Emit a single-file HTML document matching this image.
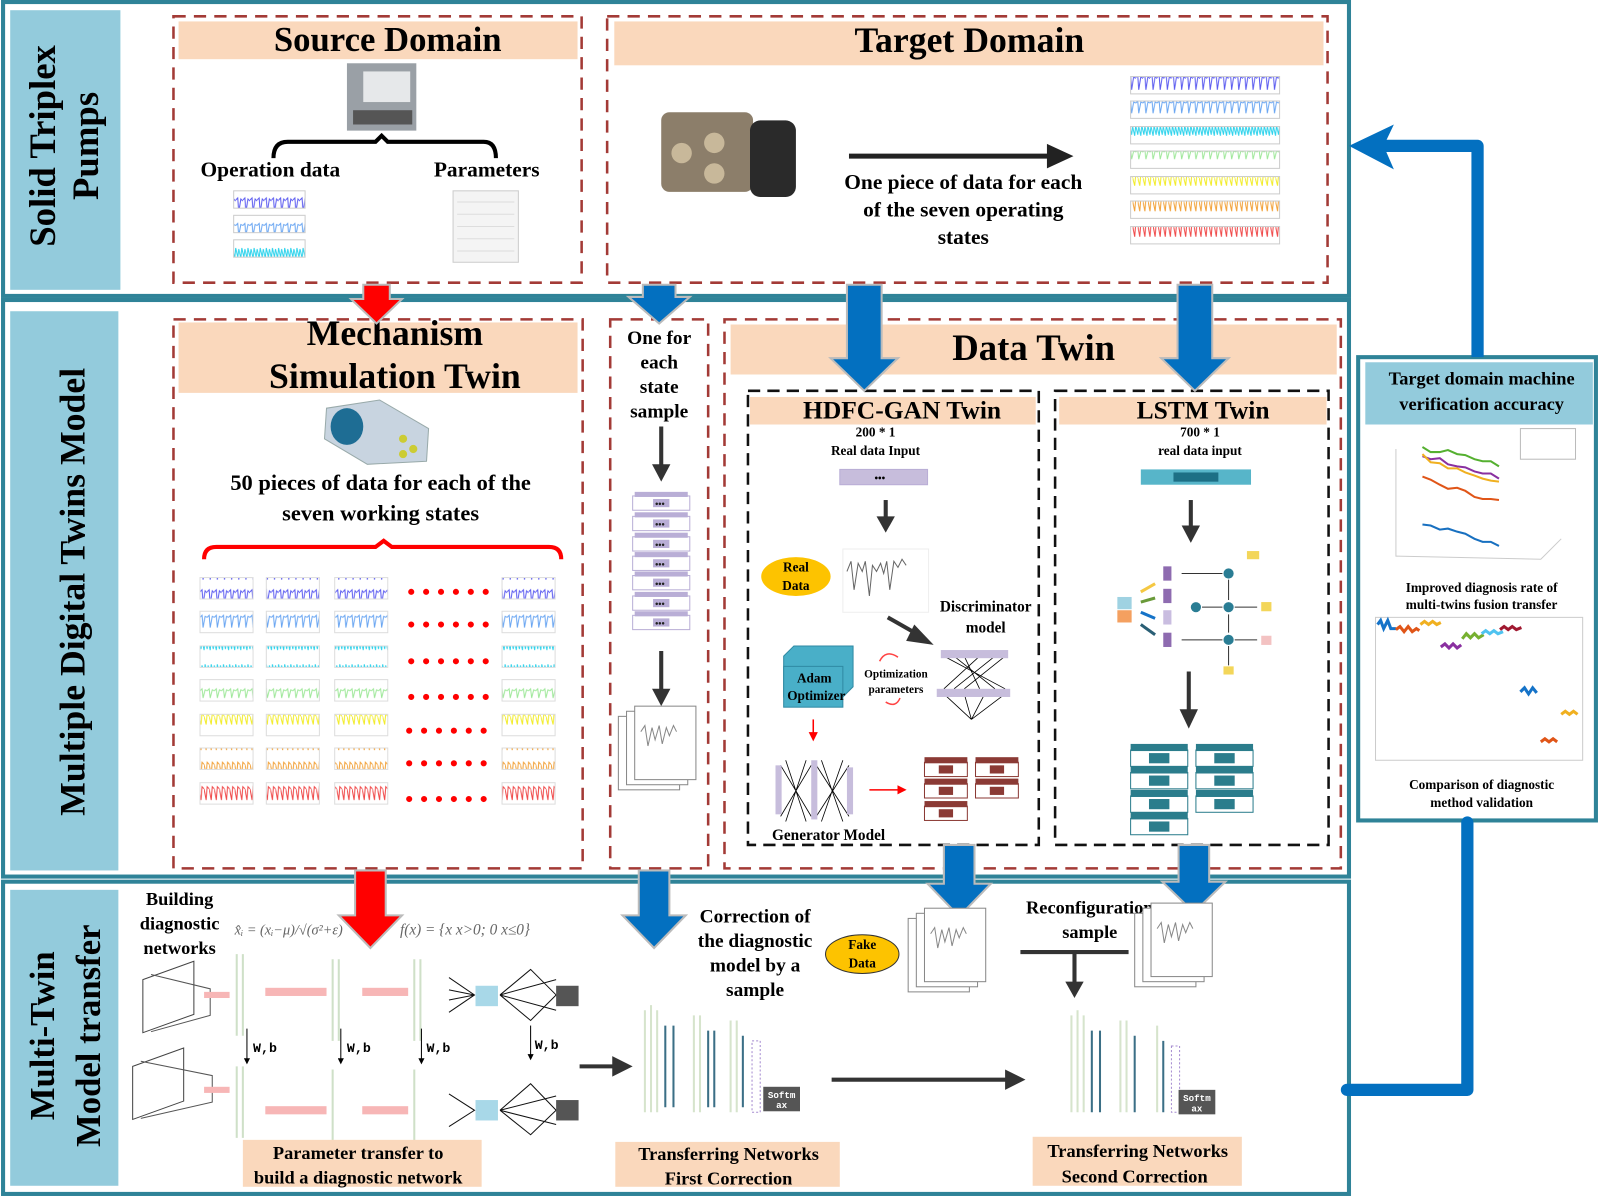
<!DOCTYPE html>
<html><head><meta charset="utf-8"><style>
html,body{margin:0;padding:0;background:#fff;}
svg{display:block}
text{font-family:"Liberation Serif",serif;font-weight:bold;fill:#000}
</style></head><body>
<svg width="1600" height="1197" viewBox="0 0 1568 1173" preserveAspectRatio="none" xmlns="http://www.w3.org/2000/svg">
<defs>
<pattern id="w0" width="7" height="24" patternUnits="userSpaceOnUse"><path d="M0,4 L2,2 L3,16 L5,3 L7,5" fill="none" stroke="#5b5bf0" stroke-width="1"/></pattern>
<pattern id="w1" width="7" height="24" patternUnits="userSpaceOnUse"><path d="M0,5 L2,3 L3,15 L5,4 L7,5" fill="none" stroke="#6aa6f2" stroke-width="1"/></pattern>
<pattern id="w2" width="6" height="24" patternUnits="userSpaceOnUse"><path d="M0,4 L2,13 L3,3 L5,12 L6,4" fill="none" stroke="#2fd3ec" stroke-width="1"/></pattern>
<pattern id="w3" width="7" height="24" patternUnits="userSpaceOnUse"><path d="M0,5 L2,3 L3,12 L5,4 L7,5" fill="none" stroke="#9fe89a" stroke-width="1"/></pattern>
<pattern id="w4" width="5" height="24" patternUnits="userSpaceOnUse"><path d="M0,6 L2,14 L3,3 L5,6" fill="none" stroke="#f2ec2a" stroke-width="1"/></pattern>
<pattern id="w5" width="5" height="24" patternUnits="userSpaceOnUse"><path d="M0,5 L2,15 L3,3 L5,5" fill="none" stroke="#f2a23a" stroke-width="1"/></pattern>
<pattern id="w6" width="5" height="24" patternUnits="userSpaceOnUse"><path d="M0,5 L2,16 L3,3 L5,5" fill="none" stroke="#f04a4a" stroke-width="1"/></pattern>
<marker id="ab" markerWidth="6" markerHeight="6" refX="3" refY="3" orient="auto" markerUnits="strokeWidth"><path d="M0,0 L6,3 L0,6 z" fill="#333"/></marker>
<marker id="ar" markerWidth="6" markerHeight="6" refX="3" refY="3" orient="auto" markerUnits="strokeWidth"><path d="M0,0 L6,3 L0,6 z" fill="#f00"/></marker>
<marker id="ak" markerWidth="6" markerHeight="6" refX="3" refY="3" orient="auto" markerUnits="strokeWidth"><path d="M0,0 L6,3 L0,6 z" fill="#000"/></marker>
<g id="lay"><rect x="0" y="0" width="56" height="14" fill="#fff" stroke="#b9aed6"/><rect x="2" y="-4" width="52" height="5" fill="#b9aed6"/><rect x="20" y="3" width="16" height="8" fill="#b9aed6"/><text x="22" y="11" font-size="9" style="fill:#222">•••</text></g>
<g id="bl"><rect x="0" y="0" width="42" height="14" fill="#fff" stroke="#8b3a35"/><rect x="0" y="-5" width="42" height="6" fill="#8b3a35"/><rect x="14" y="3" width="14" height="8" fill="#8b3a35"/></g>
<g id="tl"><rect x="0" y="0" width="56" height="16" fill="#fff" stroke="#2b7d8c"/><rect x="0" y="-6" width="56" height="7" fill="#2b7d8c"/><rect x="18" y="3" width="20" height="10" fill="#2b7d8c"/></g>
<g id="img"><rect x="0" y="10" width="60" height="72" fill="#fff" stroke="#888"/><rect x="8" y="5" width="60" height="72" fill="#fff" stroke="#888"/><rect x="16" y="0" width="60" height="72" fill="#fff" stroke="#888"/><path d="M22,25 l4,-6 l3,20 l4,-18 l3,12 l4,-14 l3,18 l4,-16 l3,8 l4,-10 l3,6" fill="none" stroke="#888"/></g>
</defs>

<rect x="3" y="2" width="1319" height="288" fill="none" stroke="#2f8398" stroke-width="4"/>
<rect x="3" y="294" width="1319" height="565" fill="none" stroke="#2f8398" stroke-width="4"/>
<rect x="3" y="864" width="1319" height="306" fill="none" stroke="#2f8398" stroke-width="4"/>
<rect x="10" y="10" width="108" height="274" fill="#93cbdc"/>
<rect x="10" y="305" width="106" height="548" fill="#93cbdc"/>
<rect x="10" y="872" width="106" height="290" fill="#93cbdc"/>
<text transform="translate(54,143) rotate(-90)" text-anchor="middle" font-size="36">Solid Triplex</text>
<text transform="translate(96,143) rotate(-90)" text-anchor="middle" font-size="36">Pumps</text>
<text transform="translate(83,580) rotate(-90)" text-anchor="middle" font-size="35">Multiple Digital Twins Model</text>
<text transform="translate(53,1015) rotate(-90)" text-anchor="middle" font-size="34">Multi-Twin</text>
<text transform="translate(98,1015) rotate(-90)" text-anchor="middle" font-size="34">Model transfer</text>

<rect x="170" y="16" width="400" height="261" fill="none" stroke="#a33a36" stroke-width="2.5" stroke-dasharray="12,8"/>
<rect x="175" y="21" width="391" height="37" fill="#fad8bc"/>
<text x="380" y="50" text-anchor="middle" font-size="34">Source Domain</text>
<rect x="340" y="62" width="68" height="66" fill="#9aa0a6"/><rect x="356" y="70" width="46" height="30" fill="#e6e8ea"/><rect x="346" y="108" width="58" height="14" fill="#555"/>
<path d="M268,155 q0,-16 14,-16 h86 l6,-6 l6,6 h94 q12,0 12,16" fill="none" stroke="#000" stroke-width="4"/>
<text x="265" y="173" text-anchor="middle" font-size="21">Operation data</text>
<text x="477" y="173" text-anchor="middle" font-size="21">Parameters</text>
<rect x="229" y="187" width="70" height="17" fill="url(#w0)" stroke="#ccc"/>
<rect x="229" y="211" width="70" height="17" fill="url(#w1)" stroke="#ccc"/>
<rect x="229" y="235" width="70" height="17" fill="url(#w2)" stroke="#ccc"/>
<rect x="444" y="187" width="64" height="70" fill="#f4f4f4" stroke="#ccc"/>
<path d="M448,198h56M448,210h56M448,222h56M448,234h56M448,246h56" stroke="#ddd"/>

<rect x="595" y="16" width="706" height="261" fill="none" stroke="#a33a36" stroke-width="2.5" stroke-dasharray="12,8"/>
<rect x="602" y="21" width="695" height="43" fill="#fad8bc"/>
<text x="950" y="51" text-anchor="middle" font-size="35">Target Domain</text>
<rect x="648" y="110" width="90" height="78" rx="8" fill="#8c7e6a"/><rect x="735" y="118" width="45" height="75" rx="10" fill="#2a2a2a"/><circle cx="668" cy="150" r="10" fill="#c8b89a"/><circle cx="700" cy="140" r="10" fill="#c8b89a"/><circle cx="700" cy="170" r="10" fill="#c8b89a"/>
<line x1="832" y1="153" x2="1030" y2="153" stroke="#222" stroke-width="5"/><path d="M1026,141 L1052,153 L1026,165 z" fill="#222"/>
<text x="944" y="185" text-anchor="middle" font-size="21">One piece of data for each</text>
<text x="944" y="212" text-anchor="middle" font-size="21">of the seven operating</text>
<text x="944" y="239" text-anchor="middle" font-size="21">states</text>
<rect x="1108" y="75" width="146" height="17" fill="url(#w0)" stroke="#ccc"/>
<rect x="1108" y="99" width="146" height="17" fill="url(#w1)" stroke="#ccc"/>
<rect x="1108" y="124" width="146" height="17" fill="url(#w2)" stroke="#ccc"/>
<rect x="1108" y="148" width="146" height="17" fill="url(#w3)" stroke="#ccc"/>
<rect x="1108" y="173" width="146" height="17" fill="url(#w4)" stroke="#ccc"/>
<rect x="1108" y="197" width="146" height="17" fill="url(#w5)" stroke="#ccc"/>
<rect x="1108" y="222" width="146" height="17" fill="url(#w6)" stroke="#ccc"/>

<rect x="170" y="313" width="401" height="538" fill="none" stroke="#a33a36" stroke-width="2.5" stroke-dasharray="12,8"/>
<rect x="175" y="316" width="391" height="69" fill="#fad8bc"/>
<text x="387" y="338" text-anchor="middle" font-size="35">Mechanism</text>
<text x="387" y="380" text-anchor="middle" font-size="35">Simulation Twin</text>
<path d="M320,400 L372,392 L420,420 L418,452 L360,455 L318,430 z" fill="#c8d4e0" stroke="#9aa"/><ellipse cx="340" cy="418" rx="16" ry="18" fill="#1e6d94"/><circle cx="395" cy="430" r="4" fill="#cc3"/><circle cx="405" cy="440" r="4" fill="#cc3"/><circle cx="395" cy="445" r="4" fill="#cc3"/>
<text x="373" y="480" text-anchor="middle" font-size="22">50 pieces of data for each of the</text>
<text x="373" y="510" text-anchor="middle" font-size="22">seven working states</text>
<path d="M200,548 q0,-12 12,-12 h156 l8,-6 l8,6 h154 q12,0 12,12" fill="none" stroke="#f00" stroke-width="4"/>
<g stroke="#ddd">
<rect x="196" y="566" width="52" height="21" fill="url(#w0)"/><rect x="261" y="566" width="52" height="21" fill="url(#w0)"/><rect x="328" y="566" width="52" height="21" fill="url(#w0)"/><rect x="492" y="566" width="52" height="21" fill="url(#w0)"/>
<rect x="196" y="599" width="52" height="21" fill="url(#w1)"/><rect x="261" y="599" width="52" height="21" fill="url(#w1)"/><rect x="328" y="599" width="52" height="21" fill="url(#w1)"/><rect x="492" y="599" width="52" height="21" fill="url(#w1)"/>
<rect x="196" y="633" width="52" height="21" fill="url(#w2)"/><rect x="261" y="633" width="52" height="21" fill="url(#w2)"/><rect x="328" y="633" width="52" height="21" fill="url(#w2)"/><rect x="492" y="633" width="52" height="21" fill="url(#w2)"/>
<rect x="196" y="666" width="52" height="21" fill="url(#w3)"/><rect x="261" y="666" width="52" height="21" fill="url(#w3)"/><rect x="328" y="666" width="52" height="21" fill="url(#w3)"/><rect x="492" y="666" width="52" height="21" fill="url(#w3)"/>
<rect x="196" y="700" width="52" height="21" fill="url(#w4)"/><rect x="261" y="700" width="52" height="21" fill="url(#w4)"/><rect x="328" y="700" width="52" height="21" fill="url(#w4)"/><rect x="492" y="700" width="52" height="21" fill="url(#w4)"/>
<rect x="196" y="733" width="52" height="21" fill="url(#w5)"/><rect x="261" y="733" width="52" height="21" fill="url(#w5)"/><rect x="328" y="733" width="52" height="21" fill="url(#w5)"/><rect x="492" y="733" width="52" height="21" fill="url(#w5)"/>
<rect x="196" y="767" width="52" height="21" fill="url(#w6)"/><rect x="261" y="767" width="52" height="21" fill="url(#w6)"/><rect x="328" y="767" width="52" height="21" fill="url(#w6)"/><rect x="492" y="767" width="52" height="21" fill="url(#w6)"/>
</g>
<g fill="none" stroke="#f00" stroke-width="6" stroke-linecap="round" stroke-dasharray="0,14.6">
<path d="M403,580 h75"/><path d="M403,612 h75"/><path d="M403,648 h75"/><path d="M403,683 h75"/><path d="M401,716 h75"/><path d="M401,748 h75"/><path d="M401,783 h75"/>
</g>

<rect x="598" y="313" width="96" height="538" fill="none" stroke="#a33a36" stroke-width="2.5" stroke-dasharray="12,8"/>
<text x="646" y="337" text-anchor="middle" font-size="19">One for</text>
<text x="646" y="361" text-anchor="middle" font-size="19">each</text>
<text x="646" y="385" text-anchor="middle" font-size="19">state</text>
<text x="646" y="409" text-anchor="middle" font-size="19">sample</text>
<line x1="648" y1="418" x2="648" y2="462" stroke="#333" stroke-width="4"/><path d="M639,455 L648,472 L657,455 z" fill="#333"/>
<use href="#lay" x="620" y="486"/><use href="#lay" x="620" y="506"/><use href="#lay" x="620" y="526"/><use href="#lay" x="620" y="545"/><use href="#lay" x="620" y="564"/><use href="#lay" x="620" y="584"/><use href="#lay" x="620" y="603"/>
<line x1="648" y1="638" x2="648" y2="682" stroke="#333" stroke-width="4"/><path d="M639,675 L648,692 L657,675 z" fill="#333"/>
<use href="#img" x="606" y="692"/>

<rect x="710" y="313" width="604" height="538" fill="none" stroke="#a33a36" stroke-width="2.5" stroke-dasharray="12,8"/>
<rect x="716" y="318" width="594" height="49" fill="#fad8bc"/>
<text x="1013" y="353" text-anchor="middle" font-size="36">Data Twin</text>
<rect x="733" y="383" width="285" height="445" fill="none" stroke="#111" stroke-width="2.5" stroke-dasharray="12,7"/>
<rect x="1034" y="383" width="268" height="445" fill="none" stroke="#111" stroke-width="2.5" stroke-dasharray="12,7"/>
<rect x="735" y="389" width="280" height="27" fill="#fad8bc"/>
<rect x="1038" y="389" width="262" height="27" fill="#fad8bc"/>
<text x="884" y="410" text-anchor="middle" font-size="25">HDFC-GAN Twin</text>
<text x="1179" y="410" text-anchor="middle" font-size="25">LSTM Twin</text>
<text x="858" y="428" text-anchor="middle" font-size="13">200 * 1</text>
<text x="858" y="446" text-anchor="middle" font-size="13">Real data Input</text>
<text x="1176" y="428" text-anchor="middle" font-size="13">700 * 1</text>
<text x="1176" y="446" text-anchor="middle" font-size="13">real  data input</text>
<rect x="823" y="460" width="86" height="15" fill="#c7bddc" stroke="#b9aed6"/><text x="857" y="472" font-size="10">•••</text>
<rect x="1118" y="460" width="108" height="15" fill="#57b5c9"/><rect x="1150" y="463" width="44" height="9" fill="#1d6f85"/>
<line x1="868" y1="490" x2="868" y2="512" stroke="#333" stroke-width="4"/><path d="M859,506 L868,522 L877,506 z" fill="#333"/>
<ellipse cx="780" cy="565" rx="34" ry="19" fill="#fdc300"/>
<text x="780" y="560" text-anchor="middle" font-size="13">Real</text><text x="780" y="578" text-anchor="middle" font-size="13">Data</text>
<rect x="826" y="538" width="84" height="62" fill="#fff" stroke="#eee"/>
<path d="M830,560 l4,-10 l3,28 l4,-26 l4,8 l3,-10 l4,34 l3,-30 l4,6 l4,-8 l3,10 l3,-12 l3,28 l4,-28 l4,6 l4,-8 l4,6" fill="none" stroke="#666"/>
<text x="966" y="599" text-anchor="middle" font-size="15">Discriminator</text>
<text x="966" y="620" text-anchor="middle" font-size="15">model</text>
<line x1="870" y1="605" x2="900" y2="622" stroke="#333" stroke-width="4"/><path d="M896,612 L915,632 L888,628 z" fill="#333"/>
<g stroke="#000" stroke-width="0.8"><path d="M925,643 L985,675 M935,643 L975,675 M945,643 L960,675 M960,643 L925,675 M975,643 L935,675 M985,643 L945,675 M925,680 L952,705 M985,680 L952,705 M945,680 L952,705 M965,680 L952,705"/></g>
<rect x="922" y="637" width="66" height="8" fill="#c7bddc"/><rect x="918" y="675" width="72" height="8" fill="#c7bddc"/>
<path d="M768,643 l10,-10 h58 v40 l-10,10 h-58 z" fill="#49afc8" stroke="#2f8aa3"/><rect x="768" y="653" width="58" height="40" fill="#49afc8" stroke="#2f8aa3"/>
<text x="798" y="669" text-anchor="middle" font-size="13">Adam</text><text x="800" y="686" text-anchor="middle" font-size="13">Optimizer</text>
<text x="878" y="664" text-anchor="middle" font-size="11">Optimization</text><text x="878" y="679" text-anchor="middle" font-size="11">parameters</text>
<path d="M862,648 q6,-12 18,-4" fill="none" stroke="#f44" stroke-width="1.5"/><path d="M868,688 q10,6 14,-4" fill="none" stroke="#f44" stroke-width="1.5"/>
<line x1="797" y1="705" x2="797" y2="722" stroke="#f00" stroke-width="1.5" marker-end="url(#ar)"/>
<g stroke="#000" stroke-width="0.8"><path d="M765,750 L795,800 M765,800 L795,750 M770,745 L790,805 M790,745 L770,805 M800,750 L832,800 M800,800 L832,750 M805,745 L826,805 M826,745 L805,805"/></g>
<rect x="760" y="750" width="6" height="48" fill="#c7bddc"/><rect x="795" y="745" width="6" height="58" fill="#c7bddc"/><rect x="830" y="752" width="6" height="46" fill="#c7bddc"/>
<line x1="852" y1="774" x2="884" y2="774" stroke="#f00" stroke-width="1.5" marker-end="url(#ar)"/>
<use href="#bl" x="906" y="747"/><use href="#bl" x="906" y="768"/><use href="#bl" x="906" y="790"/><use href="#bl" x="956" y="747"/><use href="#bl" x="956" y="768"/>
<text x="812" y="823" text-anchor="middle" font-size="15">Generator Model</text>
<line x1="1167" y1="490" x2="1167" y2="520" stroke="#333" stroke-width="4"/><path d="M1158,515 L1167,532 L1176,515 z" fill="#333"/>
<rect x="1095" y="585" width="14" height="12" fill="#9fd2e2"/><rect x="1095" y="598" width="14" height="12" fill="#f4a060"/>
<path d="M1118,580 l14,-8" stroke="#f5c842" stroke-width="3"/><path d="M1118,590 l14,-4" stroke="#6a9a3a" stroke-width="3"/><path d="M1118,600 l14,6" stroke="#1573c8" stroke-width="3"/><path d="M1118,612 l14,10" stroke="#2a5f75" stroke-width="3"/>
<rect x="1140" y="555" width="8" height="14" fill="#8e6bb0"/><rect x="1140" y="577" width="8" height="14" fill="#8e6bb0"/><rect x="1140" y="598" width="8" height="14" fill="#c9bde0"/><rect x="1140" y="620" width="8" height="14" fill="#8e6bb0"/>
<g stroke="#333" stroke-width="1"><path d="M1158,562 H1198 M1158,627 H1198 M1178,595 H1198 M1210,595 H1232 M1210,627 H1232 M1204,568 V588 M1204,602 V620 M1204,633 V652"/></g>
<circle cx="1172" cy="595" r="5" fill="#2a7d94"/><circle cx="1204" cy="562" r="5" fill="#2a7d94"/><circle cx="1204" cy="595" r="5" fill="#2a7d94"/><circle cx="1204" cy="627" r="5" fill="#2a7d94"/>
<rect x="1222" y="540" width="12" height="8" fill="#f3d65a"/><rect x="1236" y="590" width="10" height="9" fill="#f3d65a"/><rect x="1236" y="623" width="10" height="9" fill="#f3c2c2"/><rect x="1199" y="653" width="10" height="8" fill="#f3d65a"/>
<line x1="1165" y1="658" x2="1165" y2="700" stroke="#333" stroke-width="4"/><path d="M1156,695 L1165,714 L1174,695 z" fill="#333"/>
<use href="#tl" x="1108" y="735"/><use href="#tl" x="1108" y="757"/><use href="#tl" x="1108" y="780"/><use href="#tl" x="1108" y="802"/><use href="#tl" x="1172" y="735"/><use href="#tl" x="1172" y="757"/><use href="#tl" x="1172" y="780"/>

<rect x="1331" y="350" width="233" height="454" fill="#fff" stroke="#2f8398" stroke-width="4"/>
<rect x="1338" y="355" width="223" height="61" fill="#93cbdc"/>
<text x="1452" y="377" text-anchor="middle" font-size="18">Target domain machine</text>
<text x="1452" y="402" text-anchor="middle" font-size="18">verification accuracy</text>
<g fill="none" stroke-width="2">
<path d="M1394,438 l8,5 l9,0 l8,-2 l9,4 l8,1 l9,4 l8,2 l8,0 l8,5" stroke="#55b030"/>
<path d="M1394,447 l8,3 l9,-1 l8,6 l9,2 l8,1 l9,4 l8,2 l8,0 l8,5" stroke="#8a30a0"/>
<path d="M1394,445 l8,8 l9,1 l8,5 l9,0 l8,4 l9,3 l8,3 l8,2 l8,1" stroke="#f0b020"/>
<path d="M1394,467 l8,3 l9,5 l8,4 l9,-1 l8,3 l9,6 l8,2 l8,0 l8,1" stroke="#e05518"/>
<path d="M1394,514 l8,1 l9,4 l8,-1 l9,3 l8,2 l9,5 l8,3 l8,0 l8,4" stroke="#1870c0"/>
</g>
<path d="M1368,440 V545 L1510,548 L1530,528" fill="none" stroke="#ccc"/>
<rect x="1490" y="420" width="54" height="30" fill="#fff" stroke="#bbb"/>
<text x="1452" y="580" text-anchor="middle" font-size="13">Improved diagnosis rate of</text>
<text x="1452" y="597" text-anchor="middle" font-size="13">multi-twins fusion transfer</text>
<rect x="1348" y="605" width="203" height="140" fill="#fff" stroke="#ccc"/>
<g fill="none" stroke-width="3">
<path d="M1350,612 l3,-4 l3,8 l4,-8 l3,8 l5,0" stroke="#1573c8"/><path d="M1368,617 l4,-3 l4,5 l4,-5 l4,5 l4,-3 l3,2" stroke="#e05518"/><path d="M1392,612 l4,-3 l4,3 l4,-3 l4,3 l4,-2" stroke="#f0b020"/>
<path d="M1412,634 l4,-3 l4,4 l4,-4 l4,4 l4,-3" stroke="#8a30a0"/><path d="M1433,626 l4,-5 l4,4 l4,-4 l4,4 l5,-3" stroke="#77b030"/><path d="M1452,621 l4,-3 l4,3 l4,-3 l4,3 l5,-2" stroke="#4fc3f0"/><path d="M1470,617 l4,-3 l4,3 l4,-3 l4,3 l5,-2" stroke="#a01830"/>
<path d="M1490,678 l4,-4 l4,6 l4,-6 l4,5" stroke="#1573c8"/><path d="M1510,727 l4,-3 l4,3 l4,-3 l4,3" stroke="#e05518"/><path d="M1530,700 l4,-3 l4,3 l4,-3 l4,3" stroke="#f0b020"/>
</g>
<text x="1452" y="773" text-anchor="middle" font-size="13">Comparison of diagnostic</text>
<text x="1452" y="791" text-anchor="middle" font-size="13">method validation</text>

<path d="M1448,350 V143 H1345" fill="none" stroke="#0370c0" stroke-width="12" stroke-linejoin="round"/>
<path d="M1322,143 L1366,122 L1356,143 L1366,166 z" fill="#0370c0"/>
<path d="M1438,806 V1068 H1320" fill="none" stroke="#0370c0" stroke-width="12" stroke-linecap="round" stroke-linejoin="round"/>

<g stroke="#bbb" stroke-width="2">
<path d="M356,279 h26 v14 h12 l-25,24 l-25,-24 h12 z" fill="#f00"/>
<path d="M630,279 h32 v12 h14 l-30,26 l-30,-26 h14 z" fill="#0370c0"/>
<path d="M830,279 h34 v72 h16 l-33,32 l-33,-32 h16 z" fill="#0370c0"/>
<path d="M1154,279 h34 v72 h16 l-33,32 l-33,-32 h16 z" fill="#0370c0"/>
<path d="M348,853 h30 v44 h16 l-31,32 l-31,-32 h16 z" fill="#f00"/>
<path d="M626,853 h30 v44 h16 l-31,32 l-31,-32 h16 z" fill="#0370c0"/>
<path d="M925,828 h30 v38 h16 l-31,32 l-31,-32 h16 z" fill="#0370c0"/>
<path d="M1155,828 h30 v36 h16 l-31,30 l-31,-30 h16 z" fill="#0370c0"/>
</g>

<text x="176" y="887" text-anchor="middle" font-size="18">Building</text>
<text x="176" y="911" text-anchor="middle" font-size="18">diagnostic</text>
<text x="176" y="935" text-anchor="middle" font-size="18">networks</text>
<text x="230" y="916" font-size="14" style="font-style:italic;font-weight:normal;fill:#666">x̂ᵢ = (xᵢ−μ)/√(σ²+ε)</text>
<text x="392" y="916" font-size="15" style="font-style:italic;font-weight:normal;fill:#666">f(x) = {x  x&gt;0; 0  x≤0}</text>
<g>
<path d="M140,960 l50,-18 v52 l-50,18 z" fill="#fff" stroke="#444"/><path d="M148,955 l58,14 v26 l-58,16" fill="none" stroke="#555"/>
<path d="M130,1045 l50,-18 v52 l-50,18 z" fill="#fff" stroke="#444"/><path d="M138,1040 l70,14 v26 l-70,16" fill="none" stroke="#555"/>
<g fill="#f7b6b6"><rect x="260" y="968" width="60" height="8"/><rect x="355" y="968" width="45" height="8"/><rect x="260" y="1084" width="60" height="8"/><rect x="355" y="1084" width="45" height="8"/><rect x="200" y="972" width="25" height="6"/><rect x="200" y="1065" width="25" height="6"/></g>
<g stroke="#cfe0c8" stroke-width="2"><path d="M232,935 v80 M238,935 v80 M326,940 v80 M332,940 v80 M406,940 v80 M412,940 v80 M232,1045 v70 M238,1045 v70 M326,1048 v70 M406,1048 v70"/></g>
<g stroke="#111" stroke-width="1" fill="none"><path d="M440,958 L465,975 L440,992 M440,970 L465,975 L440,980 M490,975 L520,950 L545,975 L520,1000 L490,975 M490,975 L545,960 M490,975 L545,990 M440,1072 L465,1088 L440,1104 M490,1088 L520,1062 L545,1088 L520,1112 L490,1088 M490,1088 L545,1074 M490,1088 L545,1102"/></g>
<rect x="466" y="966" width="22" height="20" fill="#a8d8e8"/><rect x="545" y="966" width="22" height="20" fill="#555"/>
<rect x="466" y="1078" width="22" height="20" fill="#a8d8e8"/><rect x="545" y="1078" width="22" height="20" fill="#555"/>
<g stroke="#000" stroke-width="1"><line x1="242" y1="1008" x2="242" y2="1040" marker-end="url(#ak)"/><line x1="334" y1="1008" x2="334" y2="1040" marker-end="url(#ak)"/><line x1="413" y1="1008" x2="413" y2="1040" marker-end="url(#ak)"/><line x1="520" y1="1005" x2="520" y2="1036" marker-end="url(#ak)"/></g>
<g font-size="13"><text x="248" y="1031" style="font-family:'Liberation Mono',monospace">W,b</text><text x="340" y="1031" style="font-family:'Liberation Mono',monospace">W,b</text><text x="418" y="1031" style="font-family:'Liberation Mono',monospace">W,b</text><text x="524" y="1028" style="font-family:'Liberation Mono',monospace">W,b</text></g>
</g>
<rect x="238" y="1117" width="234" height="46" fill="#fad8bc"/>
<text x="351" y="1136" text-anchor="middle" font-size="18">Parameter transfer to</text>
<text x="351" y="1160" text-anchor="middle" font-size="18">build a diagnostic network</text>
<line x1="568" y1="1045" x2="605" y2="1045" stroke="#333" stroke-width="4"/><path d="M600,1035 L620,1045 L600,1055 z" fill="#333"/>
<text x="740" y="904" text-anchor="middle" font-size="19">Correction of</text>
<text x="740" y="928" text-anchor="middle" font-size="19">the diagnostic</text>
<text x="740" y="952" text-anchor="middle" font-size="19">model by a</text>
<text x="740" y="976" text-anchor="middle" font-size="19">sample</text>
<g stroke-width="2"><path d="M632,990 v100 M638,985 v105 M644,990 v100 M680,995 v95 M686,995 v95 M716,1000 v90 M722,1000 v90 M1050,995 v95 M1056,990 v100 M1062,995 v95 M1098,1000 v90 M1104,1000 v90 M1134,1005 v85" stroke="#d6e4cc"/>
<path d="M652,1005 v80 M660,1005 v80 M694,1010 v75 M700,1010 v75 M728,1015 v70 M1070,1010 v80 M1078,1010 v80 M1112,1015 v75 M1140,1020 v70" stroke="#3b6f86"/></g>
<rect x="737" y="1020" width="8" height="70" fill="#fff" stroke="#a58bd0" stroke-dasharray="2,2"/>
<rect x="1148" y="1025" width="8" height="65" fill="#fff" stroke="#a58bd0" stroke-dasharray="2,2"/>
<rect x="748" y="1065" width="36" height="24" fill="#555"/><text x="766" y="1076" text-anchor="middle" font-size="9" style="fill:#fff;font-family:'Liberation Mono',monospace">Softm</text><text x="766" y="1086" text-anchor="middle" font-size="9" style="fill:#fff;font-family:'Liberation Mono',monospace">ax</text>
<rect x="1155" y="1068" width="36" height="24" fill="#555"/><text x="1173" y="1079" text-anchor="middle" font-size="9" style="fill:#fff;font-family:'Liberation Mono',monospace">Softm</text><text x="1173" y="1089" text-anchor="middle" font-size="9" style="fill:#fff;font-family:'Liberation Mono',monospace">ax</text>
<rect x="603" y="1119" width="220" height="44" fill="#fad8bc"/>
<text x="714" y="1137" text-anchor="middle" font-size="18">Transferring Networks</text>
<text x="714" y="1161" text-anchor="middle" font-size="18">First Correction</text>
<line x1="815" y1="1058" x2="988" y2="1058" stroke="#333" stroke-width="4"/><path d="M985,1048 L1005,1058 L985,1068 z" fill="#333"/>
<ellipse cx="845" cy="935" rx="36" ry="19" fill="#fdc300" stroke="#333"/>
<text x="845" y="930" text-anchor="middle" font-size="13">Fake</text><text x="845" y="948" text-anchor="middle" font-size="13">Data</text>
<use href="#img" x="890" y="890"/>
<text x="1068" y="895" text-anchor="middle" font-size="18">Reconfiguration</text>
<text x="1068" y="919" text-anchor="middle" font-size="18">sample</text>
<line x1="1000" y1="933" x2="1106" y2="933" stroke="#333" stroke-width="4"/>
<line x1="1053" y1="933" x2="1053" y2="965" stroke="#333" stroke-width="4"/><path d="M1044,962 L1053,978 L1062,962 z" fill="#333"/>
<use href="#img" x="1112" y="885"/>
<rect x="1012" y="1114" width="205" height="48" fill="#fad8bc"/>
<text x="1115" y="1134" text-anchor="middle" font-size="18">Transferring Networks</text>
<text x="1112" y="1159" text-anchor="middle" font-size="18">Second Correction</text>
</svg>
</body></html>
